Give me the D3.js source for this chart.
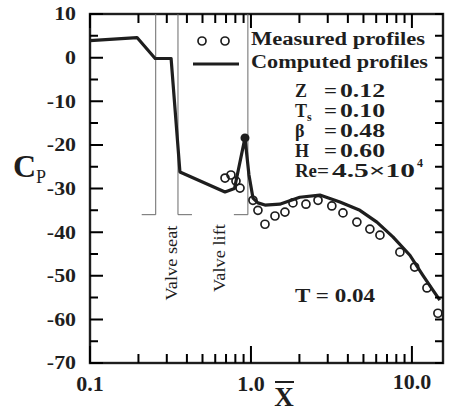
<!DOCTYPE html>
<html>
<head>
<meta charset="utf-8">
<script src="https://cdn.jsdelivr.net/npm/d3@7/dist/d3.min.js"></script>
<style>
  body { margin: 0; background: #fff; }
  svg { display: block; font-family: "Liberation Serif", "Times New Roman", serif; }
</style>
</head>
<body>
<svg width="449" height="414"></svg>
<script>
// ---- data ----
var xMajor = [0.1, 1, 10],
    xMinor = [0.2, 0.3, 0.4, 0.5, 0.6, 0.7, 0.8, 0.9, 2, 3, 4, 5, 6, 7, 8, 9],
    xTickLabels = ["0.1", "1.0", "10.0"];

var yMajor = [-70, -60, -50, -40, -30, -20, -10, 0, 10],
    yMinor = [-65, -55, -45, -35, -25, -15, -5, 5],
    yTickLabels = ["-70", "-60", "-50", "-40", "-30", "-20", "-10", "0", "10"];

// computed profile (solid line)
var computedX  = [0.1, 0.196, 0.254, 0.319, 0.362, 0.69, 0.79, 0.918, 0.972, 1.029, 1.105, 1.222, 1.51, 2.01, 2.68, 3.57, 4.75, 6.06, 7.62, 9.72, 11.7, 13.5, 14.9];
var computedCp = [3.9, 4.6, -0.2, -0.2, -26.2, -30.8, -30.0, -18.4, -26.9, -32.2, -33.3, -33.8, -33.6, -32.0, -31.5, -33.1, -35.0, -37.7, -41.1, -45.3, -49.9, -53.3, -55.6];

// measured profile (open circles)
var measuredX  = [0.69, 0.751, 0.807, 0.855, 1.029, 1.105, 1.222, 1.41, 1.626, 1.823, 2.196, 2.61, 3.18, 3.73, 4.55, 5.48, 6.33, 8.42, 10.4, 12.4, 14.5];
var measuredCp = [-27.6, -26.9, -28.3, -29.9, -32.7, -35.0, -38.2, -36.3, -35.4, -33.3, -33.6, -32.7, -34.0, -35.6, -37.7, -39.3, -40.7, -44.6, -48.0, -52.8, -58.6];

// peak of the computed profile (filled dot)
var peakX = [0.918], peakCp = [-18.4];

// valve seat / valve lift markers
var valveX = [0.256, 0.352, 0.957],
    valveFootDir = [-1, 1, -1],
    valveFootCp = -36,
    valveLabels = ["Valve seat", "Valve lift"],
    valveLabelX = [0.347, 0.69];

var params = [
  {name: "Z", sub: "", val: "0.12"},
  {name: "T", sub: "s", val: "0.10"},
  {name: "\u03b2", sub: "", val: "0.48"},
  {name: "H", sub: "", val: "0.60"}
];

var ink = "#1e1e1e";

var svg = d3.select("svg"),
    margin = {top: 14, right: 6, bottom: 51, left: 90},
    width = +svg.attr("width"),
    height = +svg.attr("height");

var x = d3.scaleLog().domain([0.1, 15.6]).range([margin.left, width - margin.right]),
    y = d3.scaleLinear().domain([-70, 10]).range([height - margin.bottom, margin.top]);

var xl = x.range()[0], xr = x.range()[1], yb = y.range()[0], yt = y.range()[1];

// stretch text horizontally a bit (scan looks wider than Times)
function stretch(sel, k) {
  sel.each(function() {
    var w = this.getComputedTextLength();
    d3.select(this).attr("textLength", w * k).attr("lengthAdjust", "spacingAndGlyphs");
  });
}
function fit(sel, w) {
  sel.attr("textLength", w).attr("lengthAdjust", "spacingAndGlyphs");
}

// frame
svg.append("rect")
    .attr("x", xl).attr("y", yt)
    .attr("width", xr - xl).attr("height", yb - yt)
    .attr("fill", "none").attr("stroke", ink).attr("stroke-width", 2.4);

// tick labels
svg.append("g").selectAll("text")
  .data(xMajor)
  .enter().append("text")
    .attr("x", function(d) { return x(d); })
    .attr("y", function(d, i) { return i == 2 ? yb + 26 : yb + 28; })
    .attr("text-anchor", "middle")
    .attr("font-size", 22).attr("font-weight", "bold").attr("fill", ink)
    .text(function(d, i) { return xTickLabels[i]; });

svg.append("g").selectAll("text")
  .data(yMajor)
  .enter().append("text")
    .attr("x", xl - 14)
    .attr("y", function(d) { return y(d); })
    .attr("dy", "0.34em")
    .attr("text-anchor", "end")
    .attr("font-size", 19).attr("font-weight", "bold").attr("fill", ink)
    .text(function(d, i) { return yTickLabels[i]; })
    .call(stretch, 1.15);

// axis titles
var cp = svg.append("text").attr("x", 13).attr("y", 177).attr("fill", ink);
cp.append("tspan").attr("font-size", 32).attr("font-weight", "bold").text("C");
cp.append("tspan").attr("font-size", 18).attr("dy", 6).text("P");

svg.append("text")
    .attr("x", 284).attr("y", 406)
    .attr("text-anchor", "middle")
    .attr("font-size", 27).attr("font-weight", "bold").attr("fill", ink)
    .text("X");
svg.append("line")
    .attr("x1", 275).attr("x2", 294).attr("y1", 382).attr("y2", 382)
    .attr("stroke", ink).attr("stroke-width", 2);

// ---- valve markers ----
var valve = svg.append("g").attr("stroke", "#6a6a6a").attr("stroke-width", 1).attr("fill", "none");
valve.selectAll("path")
  .data(valveX)
  .enter().append("path")
    .attr("d", function(d, i) {
      return "M" + x(d) + "," + yt + "V" + y(valveFootCp) + "h" + (14 * valveFootDir[i]);
    });

svg.append("g").selectAll("text")
  .data(valveLabels)
  .enter().append("text")
    .attr("transform", function(d, i) {
      return "translate(" + x(valveLabelX[i]) + "," + (i == 0 ? 263 : 258) + ") rotate(-90)";
    })
    .attr("text-anchor", "middle")
    .attr("font-size", 17).attr("fill", ink)
    .text(function(d) { return d; })
    .call(stretch, 1.08);

// ---- computed line ----
var computed = computedX.map(function(d, i) { return {x: d, cp: computedCp[i]}; });
var line = d3.line()
    .x(function(d) { return x(d.x); })
    .y(function(d) { return y(d.cp); });

svg.append("path")
    .datum(computed)
    .attr("d", line)
    .attr("fill", "none")
    .attr("stroke", ink)
    .attr("stroke-width", 3.2)
    .attr("stroke-linejoin", "round");

svg.selectAll(".peak")
  .data(peakX)
  .enter().append("circle")
    .attr("class", "peak")
    .attr("cx", function(d) { return x(d); })
    .attr("cy", function(d, i) { return y(peakCp[i]); })
    .attr("r", 4.5)
    .attr("fill", ink);

// ---- measured circles ----
svg.selectAll(".meas")
  .data(measuredX)
  .enter().append("circle")
    .attr("class", "meas")
    .attr("cx", function(d) { return x(d); })
    .attr("cy", function(d, i) { return y(measuredCp[i]); })
    .attr("r", 4)
    .attr("fill", "none")
    .attr("stroke", ink)
    .attr("stroke-width", 1.7);

// ---- legend ----
var leg = svg.append("g");
leg.selectAll("circle")
  .data([202, 225])
  .enter().append("circle")
    .attr("cx", function(d) { return d; }).attr("cy", 41)
    .attr("r", 4).attr("fill", "none").attr("stroke", ink).attr("stroke-width", 1.7);
leg.append("line")
    .attr("x1", 193).attr("x2", 239).attr("y1", 64).attr("y2", 64)
    .attr("stroke", ink).attr("stroke-width", 3.2);
leg.append("text").attr("x", 251).attr("y", 45)
    .attr("font-size", 18).attr("font-weight", "bold").attr("fill", ink)
    .text("Measured profiles").call(fit, 174);
leg.append("text").attr("x", 251).attr("y", 68)
    .attr("font-size", 18).attr("font-weight", "bold").attr("fill", ink)
    .text("Computed profiles").call(fit, 177);

// parameter block
params.forEach(function(p, i) {
  var by = 97 + i * 20;
  var t = svg.append("text").attr("x", 295).attr("y", by)
      .attr("font-size", 18).attr("font-weight", "bold").attr("fill", ink);
  t.append("tspan").text(p.name);
  if (p.sub) t.append("tspan").attr("font-size", 12).attr("dy", 4).text(p.sub);
  svg.append("text").attr("x", 324).attr("y", by)
      .attr("font-size", 18).attr("font-weight", "bold").attr("fill", ink).text("=")
      .call(fit, 13);
  svg.append("text").attr("x", 340).attr("y", by)
      .attr("font-size", 18).attr("font-weight", "bold").attr("fill", ink)
      .text(p.val).call(fit, 45);
});
var re = svg.append("g").attr("font-size", 18).attr("font-weight", "bold").attr("fill", ink);
re.append("text").attr("x", 295).attr("y", 177).text("Re").call(fit, 22);
re.append("text").attr("x", 317).attr("y", 177).text("=").call(fit, 12);
re.append("text").attr("x", 332).attr("y", 177).text("4.5\u00d710").call(fit, 83);
re.append("text").attr("x", 417).attr("y", 167).attr("font-size", 12).text("4");

// annotation
svg.append("text").attr("x", 295).attr("y", 302)
    .attr("font-size", 18).attr("font-weight", "bold").attr("fill", ink)
    .text("T = 0.04").call(fit, 80);

// ---- ticks (inward, all four sides), drawn last ----
function xTickPath(vals, len, yy, dir) {
  return vals.map(function(d) { return "M" + x(d) + "," + yy + "v" + (dir * len); }).join("");
}
function yTickPath(vals, len, xx, dir) {
  return vals.map(function(d) { return "M" + xx + "," + y(d) + "h" + (dir * len); }).join("");
}
var tickPaths = [
  xTickPath(xMinor, 9, yb, -1),
  xTickPath(xMajor, 17, yb, -1),
  xTickPath(xMinor, 9, yt, 1),
  xTickPath(xMajor, 14, yt, 1),
  yTickPath(yMinor, 8, xl, 1),
  yTickPath(yMajor, 13, xl, 1),
  yTickPath(yMajor.concat(yMinor), 8, xr, -1)
];
svg.append("g").selectAll("path")
  .data(tickPaths)
  .enter().append("path")
    .attr("d", function(d) { return d; })
    .attr("fill", "none")
    .attr("stroke", "#000")
    .attr("stroke-width", 2);
</script>
</body>
</html>
